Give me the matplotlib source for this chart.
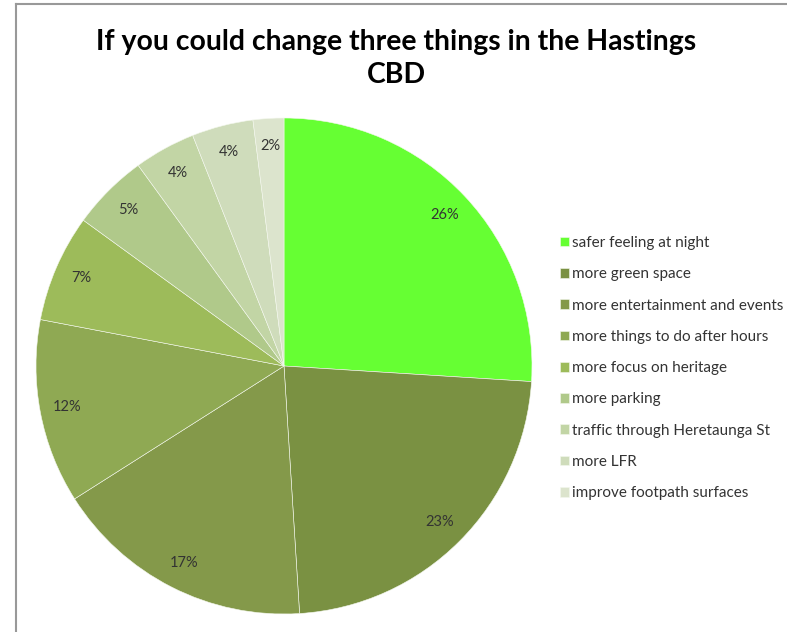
import matplotlib.pyplot as plt
from matplotlib.lines import Line2D

labels = ["safer feeling at night", "more green space", "more entertainment and events",
          "more things to do after hours", "more focus on heritage", "more parking",
          "traffic through Heretaunga St", "more LFR", "improve footpath surfaces"]
values = [26, 23, 17, 12, 7, 5, 4, 4, 2]
colors = ["#66ff33", "#7a9142", "#84994a", "#8fa953", "#9dbb5a",
          "#b0c98a", "#c2d5a5", "#cfdcbb", "#dce4cd"]

plt.rcParams['font.family'] = ['Lato', 'DejaVu Sans']

fig = plt.figure(figsize=(7.87, 6.32), dpi=100)
W, H = 787, 632

# pie axes: centre (284, 366) px, radius 248 px
cx, cy, r = 284, 366, 248
ax = fig.add_axes([(cx - r) / W, (H - cy - r) / H, 2 * r / W, 2 * r / H])
wedges, texts, autotexts = ax.pie(
    values, colors=colors, startangle=90, counterclock=False,
    autopct='%1.0f%%', pctdistance=0.89,
    wedgeprops=dict(edgecolor='#f4f8ee', linewidth=0.4),
    textprops=dict(fontsize=10.5, color='#333333'))
ax.set_aspect('equal')
ax.set_xlim(-1, 1)
ax.set_ylim(-1, 1)

fig.text(396 / W, 1 - 42 / H, "If you could change three things in the Hastings",
         ha='center', va='center', fontsize=20.4, fontweight='bold')
fig.text(396 / W, 1 - 75 / H, "CBD", ha='center', va='center',
         fontsize=20.4, fontweight='bold')

leg = fig.legend(wedges, labels, loc='upper left',
                 bbox_to_anchor=(560 / W, 1 - 236 / H), frameon=False,
                 fontsize=11, handlelength=0.6, handleheight=0.6,
                 handletextpad=0.2, labelspacing=1.13, borderpad=0,
                 borderaxespad=0)
for t in leg.get_texts():
    t.set_color('#333333')

# chart frame (left and top edges visible)
fig.add_artist(Line2D([16 / W, 16 / W], [0, 1 - 4 / H], color='#999999', lw=1.5,
                      transform=fig.transFigure))
fig.add_artist(Line2D([16 / W, 1], [1 - 4 / H, 1 - 4 / H], color='#999999', lw=1.5,
                      transform=fig.transFigure))

fig.savefig("out.png", dpi=100)
